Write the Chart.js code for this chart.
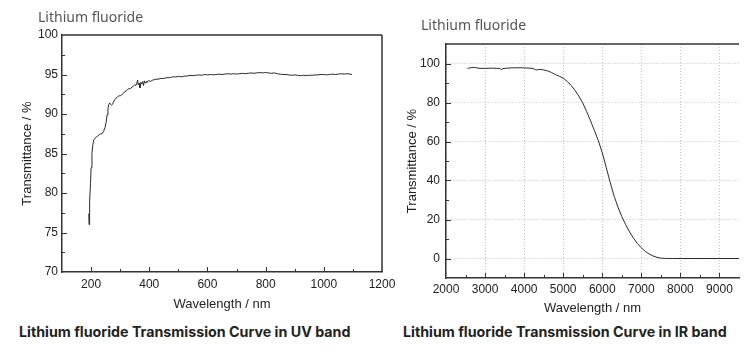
<html>
<head>
<script src="https://cdn.jsdelivr.net/npm/chart.js"></script>
<title>Lithium fluoride</title>
<style>
  body { margin: 0; background: #fff; width: 753px; height: 364px; position: relative; overflow: hidden; }
  canvas { position: absolute; top: 0; }
  .ttl { position: absolute; font-family: "Noto Sans", sans-serif; font-size: 14px; line-height: 14px; color: #555; white-space: nowrap; }
  .cap { position: absolute; font-family: Inter, sans-serif; font-weight: 700; font-size: 14.25px; line-height: 14.5px; color: #222; white-space: nowrap; }
</style>
</head>
<body>
  <canvas id="uvChart" width="395" height="320" style="left:0"></canvas>
  <canvas id="irChart" width="358" height="320" style="left:395px"></canvas>
  <div class="ttl" style="left:38px; top:10px">Lithium fluoride</div>
  <div class="ttl" style="left:421px; top:18px">Lithium fluoride</div>
  <div class="cap" style="left:19px; top:325px">Lithium fluoride Transmission Curve in UV band</div>
  <div class="cap" style="left:403px; top:325px">Lithium fluoride Transmission Curve in IR band</div>

<script>
// UV band, wavelength (nm) and transmittance (%)
const uvWavelength = [192,193,194,196,198,200,203,206,209,213,218,223,228,233,238,243,248,252,255,258,261,264,267,270,273,277,281,285,290,295,300,305,310,315,320,325,330,335,340,345,350,354,357,360,362,365,368,371,374,377,380,383,386,389,392,396,400,405,410,415,420,430,440,450,460,470,480,490,500,510,520,530,540,550,560,570,580,590,600,610,620,630,640,650,660,670,680,690,700,710,720,730,740,750,760,770,780,790,800,810,820,830,840,850,860,870,880,890,900,910,920,930,940,950,960,970,980,990,1000,1010,1020,1030,1040,1050,1060,1070,1080,1090,1097];
const uvTransmittance = [77.4,76.0,76.6,79.0,81.2,83.2,85.0,86.1,86.7,86.9,87.1,87.2,87.4,87.5,87.5,87.8,88.3,89.0,89.9,90.7,91.2,91.4,91.2,91.1,91.2,91.5,91.8,92.0,92.1,92.3,92.3,92.4,92.6,92.8,92.9,93.1,93.2,93.2,93.4,93.5,93.7,93.6,93.9,94.3,93.7,93.9,93.3,94.0,93.8,94.1,93.6,94.2,93.9,94.1,94.0,94.2,94.2,94.1,94.3,94.3,94.4,94.4,94.5,94.5,94.6,94.6,94.7,94.7,94.75,94.7,94.8,94.8,94.9,94.85,94.9,94.95,94.9,95.0,94.95,95.0,94.95,95.0,95.05,95.0,95.05,95.1,95.05,95.1,95.05,95.1,95.15,95.1,95.15,95.2,95.15,95.2,95.25,95.2,95.25,95.2,95.15,95.2,95.1,95.05,95.0,95.0,94.95,94.9,94.95,94.9,94.85,94.9,94.85,94.9,94.9,94.95,94.95,95.0,95.0,94.95,95.0,95.05,95.0,95.05,95.1,95.05,95.1,95.05,95.0];

// IR band
const irWavelength = [2550,2620,2700,2760,2820,2900,3000,3100,3200,3300,3380,3420,3460,3550,3650,3750,3850,3950,4050,4150,4230,4290,4340,4400,4500,4600,4700,4800,4900,5000,5100,5200,5300,5400,5500,5600,5700,5800,5900,6000,6100,6200,6300,6400,6500,6600,6700,6800,6900,7000,7100,7200,7300,7400,7500,7600,7800,8000,8500,9000,9500];
const irTransmittance = [97.5,97.8,98.0,97.9,97.6,97.5,97.5,97.6,97.6,97.5,97.5,96.9,97.4,97.6,97.7,97.8,97.8,97.8,97.7,97.6,97.4,96.8,96.7,97.0,96.7,96.2,95.4,94.3,93.5,92.5,90.9,88.8,86.3,83.3,79.8,75.4,70.6,65.6,60.4,54.2,46.8,39.2,32.2,26.4,21.5,17.3,13.6,10.4,7.7,5.5,3.7,2.3,1.3,0.6,0.2,0.05,0,0,0,0,0];

// tick labels
const uvXTicks = [200,400,600,800,1000,1200];
const uvYTicks = [70,75,80,85,90,95,100];
const irXTicks = [2000,3000,4000,5000,6000,7000,8000,9000];
const irYTicks = [0,20,40,60,80,100];

const axisColor = '#333';
const tickFont = { family: 'Liberation Sans, Arial, sans-serif', size: 12 };
const titleFont = { family: 'Liberation Sans, Arial, sans-serif', size: 13 };

// inward ticks + top/right frame
const frameTicks = {
  id: 'frameTicks',
  afterDraw(chart, args, opts) {
    const { ctx, chartArea: a, scales: { x, y } } = chart;
    ctx.save();
    ctx.strokeStyle = axisColor;
    ctx.lineWidth = 1.5;
    ctx.beginPath();
    ctx.moveTo(a.left, a.top); ctx.lineTo(a.right, a.top);
    if (opts.right) { ctx.moveTo(a.right, a.top); ctx.lineTo(a.right, a.bottom); }
    ctx.stroke();
    ctx.lineWidth = 1;
    ctx.beginPath();
    for (let v = x.min + opts.xMinor; v < x.max - 1e-6; v += opts.xMinor) {
      const px = Math.round(x.getPixelForValue(v)) + 0.5;
      const len = Math.abs(v % opts.xMajor) < 1e-6 ? 5 : 3;
      ctx.moveTo(px, a.bottom); ctx.lineTo(px, a.bottom - len);
    }
    for (let v = y.min + opts.yMinor; v < y.max - 1e-6; v += opts.yMinor) {
      const py = Math.round(y.getPixelForValue(v)) + 0.5;
      const len = Math.abs(v % opts.yMajor) < 1e-6 ? 5 : 3;
      ctx.moveTo(a.left, py); ctx.lineTo(a.left + len, py);
    }
    ctx.stroke();
    ctx.restore();
  }
};

function makeChart(id, xs, ys, o) {
  return new Chart(document.getElementById(id), {
    type: 'line',
    data: {
      datasets: [{
        data: xs.map((v, i) => ({ x: v, y: ys[i] })),
        borderColor: '#2a2a2a',
        borderWidth: 1,
        pointRadius: 0,
        tension: 0
      }]
    },
    options: {
      responsive: false,
      animation: false,
      layout: { padding: o.padding },
      plugins: { legend: { display: false }, tooltip: { enabled: false }, frameTicks: o.ticks },
      scales: {
        x: {
          type: 'linear', min: o.xMin, max: o.xMax,
          afterBuildTicks: s => { s.ticks = o.xTicks.map(v => ({ value: v })); },
          afterFit: s => { s.height = 40; s.paddingLeft = 0; s.paddingRight = 0; },
          ticks: { color: '#222', font: tickFont, padding: o.xPad, maxRotation: 0, autoSkip: false, callback: v => String(v) },
          grid: { display: o.grid, drawTicks: false, color: '#c4c4c4', lineWidth: 1 },
          border: { display: true, color: axisColor, width: 1.5, dash: [1, 2] },
          title: { display: true, text: 'Wavelength / nm', color: '#222', font: titleFont, padding: { top: 0, bottom: o.xTitlePad } }
        },
        y: {
          min: o.yMin, max: o.yMax,
          afterBuildTicks: s => { s.ticks = o.yTicks.map(v => ({ value: v })); },
          afterFit: s => { s.width = o.yWidth; s.paddingTop = 0; s.paddingBottom = 0; },
          ticks: { color: '#222', font: tickFont, padding: o.yPad, callback: v => String(v) },
          grid: { display: o.grid, drawTicks: false, color: '#c4c4c4', lineWidth: 1 },
          border: { display: true, color: axisColor, width: 1.5, dash: [1, 2] },
          title: { display: true, text: 'Transmittance / %', color: '#222', font: titleFont, padding: { top: o.yTitlePad, bottom: 0 } }
        }
      }
    },
    plugins: [frameTicks]
  });
}

makeChart('uvChart', uvWavelength, uvTransmittance, {
  padding: { left: 0, top: 35, right: 13, bottom: 8 },
  xMin: 100, xMax: 1200, yMin: 70, yMax: 100,
  xTicks: uvXTicks, yTicks: uvYTicks,
  yWidth: 62, xPad: 5, yPad: 4, xTitlePad: 0, yTitlePad: 20,
  grid: false,
  ticks: { xMinor: 100, xMajor: 200, yMinor: 2.5, yMajor: 5, right: true }
});

makeChart('irChart', irWavelength, irTransmittance, {
  padding: { left: 0, top: 44, right: 14, bottom: 2 },
  xMin: 2000, xMax: 9500, yMin: -10, yMax: 110,
  xTicks: irXTicks, yTicks: irYTicks,
  yWidth: 51, xPad: 4, yPad: 6, xTitlePad: 1.5, yTitlePad: 9.5,
  grid: true,
  ticks: { xMinor: 500, xMajor: 1000, yMinor: 10, yMajor: 20, right: false }
});
</script>
</body>
</html>
